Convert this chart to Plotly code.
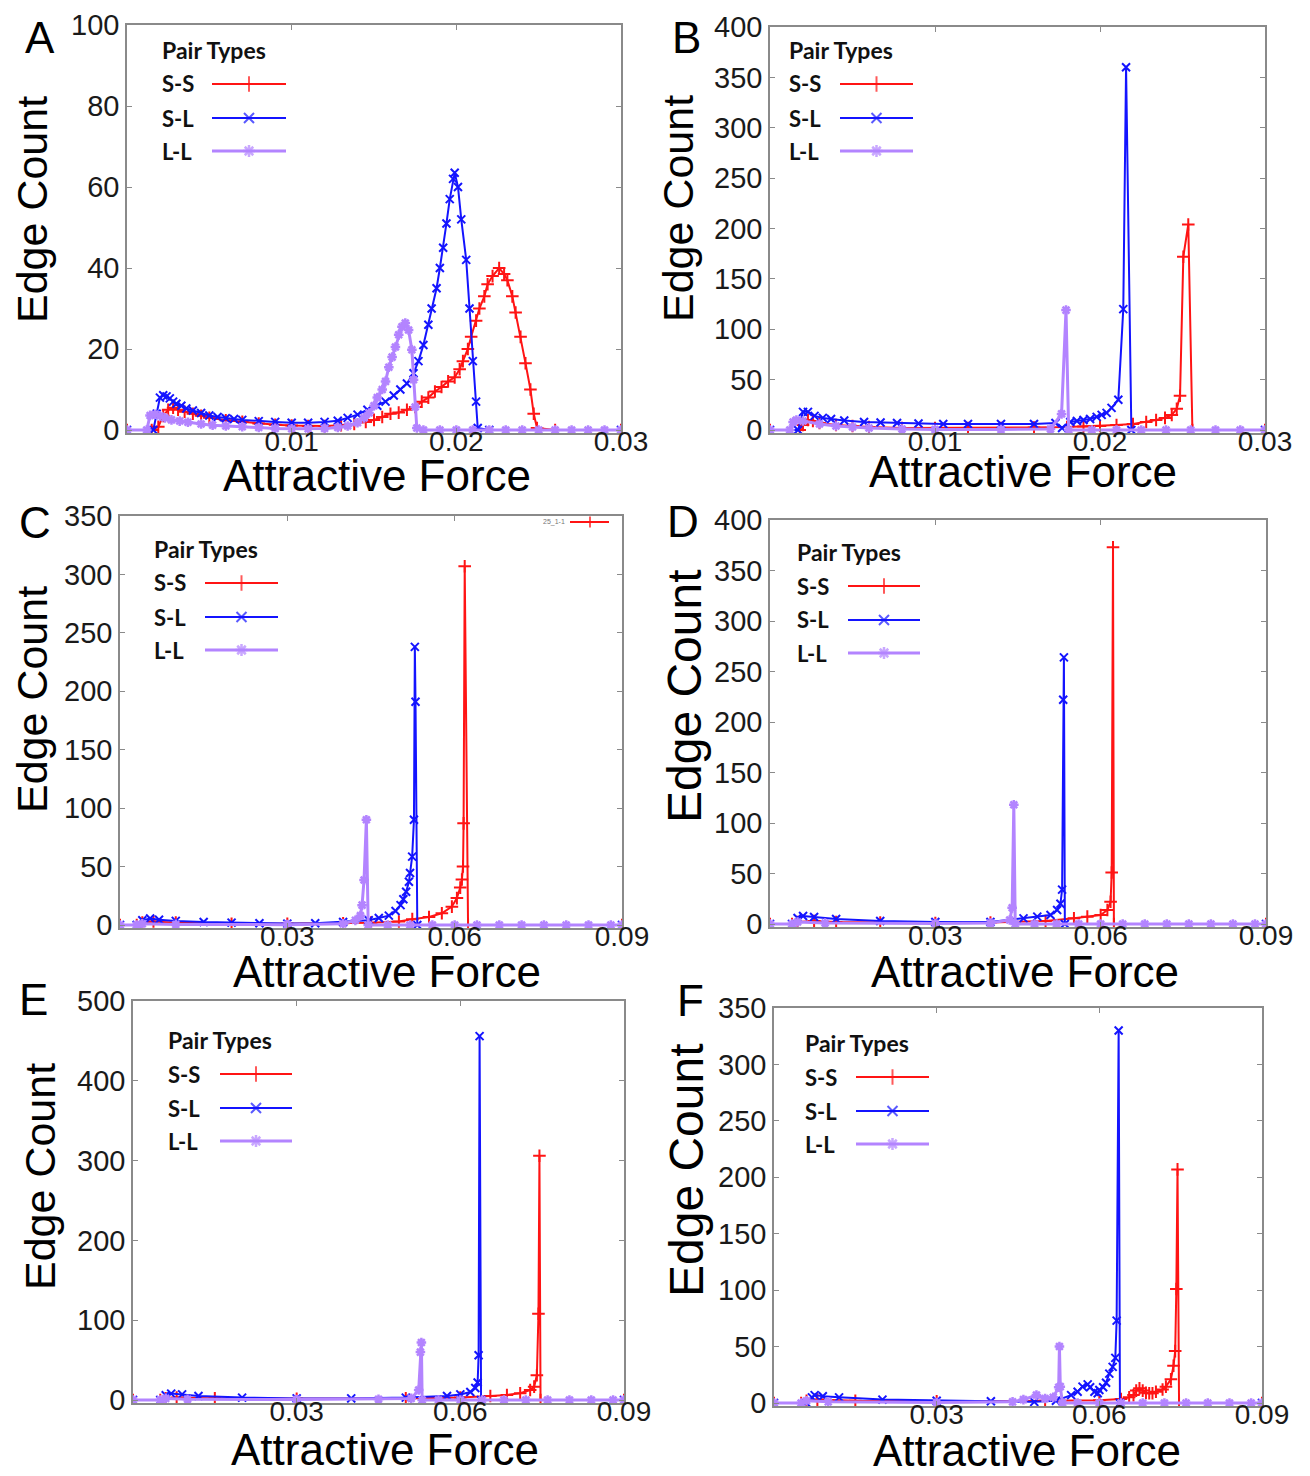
import plotly.graph_objects as go

W, H = 1310, 1476

# ---------------------------------------------------------------
# Edge-count histograms over attractive force, one list per pair
# type and panel, as (force, count) pairs.
# ---------------------------------------------------------------
A_SS = [(0.0, 0), (0.0015, 0), (0.0019, 0.8), (0.0022, 3.5), (0.0025, 5), (0.0028, 5.5),
        (0.0031, 5), (0.0035, 4.5), (0.0040, 4), (0.0045, 3.5), (0.0050, 3), (0.0060, 2.4),
        (0.0070, 2), (0.0080, 1.6), (0.0090, 1.3), (0.0100, 1.1), (0.0110, 1), (0.0120, 1),
        (0.0130, 1.2), (0.0138, 1.5), (0.0145, 2), (0.0150, 2.5), (0.0155, 3.2), (0.0160, 4),
        (0.0165, 4.3), (0.0170, 5), (0.0175, 5.7), (0.0179, 7), (0.0183, 8), (0.0187, 9.5),
        (0.0191, 10.6), (0.0195, 12), (0.0199, 13), (0.0202, 15), (0.0204, 17), (0.0207, 20),
        (0.0209, 23), (0.0212, 27), (0.0214, 30), (0.0217, 33), (0.0219, 36), (0.0222, 38),
        (0.0226, 40), (0.0229, 38.5), (0.0231, 37), (0.0234, 33), (0.0236, 29), (0.0239, 23),
        (0.0242, 16.5), (0.0245, 10), (0.0247, 4), (0.0249, 0.5), (0.0260, 0), (0.0300, 0)]
A_SL = [(0.0, 0), (0.0016, 0), (0.0018, 4), (0.0020, 8), (0.0022, 8.6), (0.0024, 8.3),
        (0.0026, 7.8), (0.0028, 7), (0.0030, 6.5), (0.0033, 6), (0.0036, 5.3), (0.0040, 4.8),
        (0.0045, 4.2), (0.0050, 3.6), (0.0055, 3.2), (0.0060, 2.9), (0.0065, 2.7), (0.0070, 2.5),
        (0.0080, 2.2), (0.0090, 2.0), (0.0100, 1.8), (0.0110, 1.8), (0.0120, 2.0), (0.0128, 2.3),
        (0.0134, 3), (0.0140, 3.8), (0.0146, 5), (0.0152, 6), (0.0157, 7), (0.0162, 8.5),
        (0.0166, 10), (0.0170, 11.5), (0.0174, 14), (0.0177, 17), (0.0180, 21), (0.0183, 26),
        (0.0185, 30), (0.0188, 35), (0.0190, 40), (0.0192, 45), (0.0194, 51), (0.0196, 57),
        (0.0198, 62), (0.0199, 63.5), (0.0201, 60), (0.0203, 52), (0.0206, 42), (0.0208, 30),
        (0.0210, 17), (0.0212, 7), (0.0213, 0.5), (0.0220, 0), (0.0300, 0)]
A_LL = [(0.0, 0), (0.0012, 0), (0.0014, 3.6), (0.0017, 3.9), (0.0020, 3.5), (0.0023, 3),
        (0.0027, 2.5), (0.0032, 2.2), (0.0037, 1.9), (0.0045, 1.5), (0.0052, 1.2), (0.0060, 1),
        (0.0070, 0.8), (0.0080, 0.6), (0.0090, 0.4), (0.0100, 0.3), (0.0110, 0.3), (0.0120, 0.4),
        (0.0128, 0.6), (0.0134, 1), (0.0140, 1.8), (0.0144, 3), (0.0147, 4.2), (0.0150, 6),
        (0.0152, 8), (0.0155, 10), (0.0157, 12), (0.0159, 15.5), (0.0161, 18), (0.0163, 20.5),
        (0.0165, 23.5), (0.0167, 25.5), (0.0169, 26.4), (0.0171, 24.7), (0.0173, 19.8),
        (0.0174, 12.4), (0.0175, 5.7), (0.0176, 0.5), (0.0180, 0), (0.0190, 0), (0.0200, 0),
        (0.0210, 0), (0.0220, 0), (0.0230, 0), (0.0240, 0), (0.0250, 0), (0.0260, 0),
        (0.0270, 0), (0.0280, 0), (0.0290, 0), (0.0300, 0)]

B_SS = [(0.0, 0), (0.0018, 0), (0.0020, 5), (0.0023, 10), (0.0026, 9), (0.0030, 7),
        (0.0040, 5), (0.0050, 4), (0.0060, 3), (0.0080, 2), (0.0100, 2), (0.0120, 2),
        (0.0140, 2), (0.0160, 2.5), (0.0180, 3), (0.0190, 3.5), (0.0200, 4), (0.0210, 5),
        (0.0220, 6), (0.0228, 8), (0.0234, 10), (0.02394, 12), (0.02435, 15), (0.02465, 21),
        (0.02485, 34), (0.02505, 172), (0.02535, 204), (0.0256, 0), (0.0300, 0)]
B_SL = [(0.0, 0), (0.0017, 0), (0.0020, 18), (0.0023, 18), (0.0027, 14), (0.0032, 12),
        (0.0037, 11), (0.0045, 9.5), (0.0057, 8), (0.0067, 7.5), (0.0077, 7), (0.0090, 6.5),
        (0.0105, 6), (0.0120, 6), (0.0140, 6), (0.0160, 6), (0.0173, 7), (0.0177, 2),
        (0.0182, 8), (0.0186, 9), (0.0190, 10), (0.0194, 11), (0.0198, 13), (0.0201, 15),
        (0.0204, 17), (0.0207, 22), (0.02111, 30), (0.02141, 120), (0.02158, 360),
        (0.0219, 0), (0.0300, 0)]
B_LL = [(0.0, 0), (0.0012, 0), (0.0014, 8), (0.0016, 10), (0.0020, 9), (0.0030, 6),
        (0.0040, 4), (0.0050, 3), (0.0060, 2), (0.0080, 1), (0.0100, 0.5), (0.0140, 0.5),
        (0.0170, 1), (0.01767, 16), (0.01794, 119), (0.0181, 0), (0.0195, 0), (0.0210, 0),
        (0.0225, 0), (0.0240, 0), (0.0255, 0), (0.0270, 0), (0.0285, 0), (0.0300, 0)]

C_SS = [(0.0, 0), (0.0030, 0), (0.0040, 2), (0.0060, 3), (0.0100, 2), (0.0200, 1),
        (0.0300, 1), (0.0400, 1.5), (0.0450, 2), (0.0500, 3), (0.0524, 5), (0.0554, 6.8),
        (0.0577, 10), (0.0595, 15.7), (0.0604, 23), (0.0610, 32), (0.0613, 39), (0.0615, 50),
        (0.0616, 87), (0.0618, 307), (0.0624, 0), (0.0900, 0)]
C_SL = [(0.0, 0), (0.0030, 0), (0.0040, 4), (0.0054, 5.5), (0.0070, 4.5), (0.0100, 3.5),
        (0.0150, 2.5), (0.0200, 2), (0.0250, 1.5), (0.0300, 1.2), (0.0350, 1.5), (0.0400, 2.5),
        (0.0446, 4), (0.0464, 6), (0.0482, 8), (0.0494, 12), (0.0503, 17), (0.0508, 22),
        (0.0513, 28.5), (0.0518, 37), (0.0520, 44.5), (0.05238, 58.5), (0.0527, 90),
        (0.05286, 238), (0.05298, 191), (0.0533, 0), (0.0900, 0)]
C_LL = [(0.0, 0), (0.0030, 0), (0.0040, 1), (0.0100, 0.5), (0.0300, 0.3), (0.0400, 1),
        (0.0422, 4), (0.0431, 8), (0.0434, 17), (0.04375, 38.5), (0.04417, 90), (0.0445, 0),
        (0.0480, 0), (0.0520, 0), (0.0560, 0), (0.0600, 0), (0.0640, 0), (0.0680, 0),
        (0.0720, 0), (0.0760, 0), (0.0800, 0), (0.0840, 0), (0.0880, 0), (0.0900, 0)]

D_SS = [(0.0, 0), (0.0040, 0), (0.0050, 2), (0.0080, 3), (0.0120, 2), (0.0200, 1.5),
        (0.0300, 1), (0.0400, 1.5), (0.0500, 3), (0.05515, 5.6), (0.05758, 7.3), (0.0600, 8.9),
        (0.06122, 13.9), (0.0618, 22), (0.0620, 51), (0.06224, 373), (0.0624, 0), (0.0900, 0)]
D_SL = [(0.0, 0), (0.0040, 0), (0.0050, 6), (0.0060, 8), (0.0080, 7), (0.0120, 5),
        (0.0200, 3), (0.0300, 2), (0.0400, 2), (0.0460, 5.6), (0.0485, 7.3), (0.0509, 8.9),
        (0.0521, 13.9), (0.0527, 20), (0.0530, 34), (0.0532, 222), (0.05333, 264),
        (0.0535, 0), (0.0900, 0)]
D_LL = [(0.0, 0), (0.0040, 0), (0.0050, 2), (0.0100, 1), (0.0300, 0.5), (0.0400, 1),
        (0.0435, 4), (0.04394, 16), (0.04424, 118), (0.0445, 0), (0.0480, 0), (0.0520, 0),
        (0.0560, 0), (0.0600, 0), (0.0640, 0), (0.0680, 0), (0.0720, 0), (0.0760, 0),
        (0.0800, 0), (0.0840, 0), (0.0880, 0), (0.0900, 0)]

E_SS = [(0.0, 0), (0.0050, 0), (0.0060, 2), (0.0080, 3), (0.0150, 2), (0.0300, 1.5),
        (0.0500, 2), (0.0600, 3), (0.0655, 5), (0.06854, 6.3), (0.07097, 8.4), (0.0728, 12.5),
        (0.07353, 16.7), (0.07403, 31), (0.07432, 108), (0.0745, 306), (0.0747, 0), (0.0900, 0)]
E_SL = [(0.0, 0), (0.0050, 0), (0.0060, 6), (0.0070, 8), (0.0090, 7), (0.0120, 5),
        (0.0200, 3), (0.0300, 2), (0.0400, 2), (0.0500, 3), (0.05756, 5), (0.0600, 7),
        (0.06183, 10), (0.06274, 15), (0.06317, 22), (0.06335, 56), (0.06353, 456),
        (0.0638, 0), (0.0900, 0)]
E_LL = [(0.0, 0), (0.0050, 0), (0.0060, 2), (0.0100, 1), (0.0300, 0.5), (0.0450, 1),
        (0.0510, 2), (0.05237, 12.5), (0.05268, 60), (0.05286, 72), (0.0530, 0), (0.0560, 0),
        (0.0600, 0), (0.0640, 0), (0.0680, 0), (0.0720, 0), (0.0760, 0), (0.0800, 0),
        (0.0840, 0), (0.0880, 0), (0.0900, 0)]

F_SS = [(0.0, 0), (0.0050, 0), (0.0060, 2), (0.0080, 3), (0.0150, 2), (0.0300, 1.5),
        (0.0500, 2), (0.0600, 2.5), (0.0640, 3.5), (0.0655, 5), (0.0663, 7), (0.0668, 11),
        (0.0674, 13), (0.0680, 11), (0.0686, 9), (0.0692, 8.6), (0.0698, 8.6), (0.07044, 10),
        (0.07166, 12), (0.07228, 14.5), (0.0732, 21), (0.07368, 33), (0.07399, 46),
        (0.0742, 101), (0.07442, 207), (0.0747, 0), (0.0900, 0)]
F_SL = [(0.0, 0), (0.0060, 0), (0.0070, 5), (0.0075, 7), (0.0090, 6), (0.0120, 5),
        (0.0200, 3), (0.0300, 2), (0.0400, 1.5), (0.0480, 1), (0.0520, 2), (0.0548, 7),
        (0.0560, 10), (0.0569, 14.5), (0.05785, 16.5), (0.0583, 14), (0.0591, 10),
        (0.0597, 8.6), (0.0600, 11.5), (0.0607, 14), (0.06124, 18), (0.06184, 26),
        (0.06246, 32), (0.06295, 40), (0.06319, 73), (0.06356, 330), (0.0638, 0), (0.0900, 0)]
F_LL = [(0.0, 0), (0.0050, 0), (0.0060, 2), (0.0100, 1), (0.0300, 0.5), (0.0440, 1),
        (0.0460, 3), (0.0484, 7), (0.0500, 4), (0.0515, 5), (0.0525, 14), (0.05264, 50),
        (0.0528, 14.5), (0.0532, 0), (0.0560, 0), (0.0600, 0), (0.0640, 0), (0.0680, 0),
        (0.0720, 0), (0.0760, 0), (0.0800, 0), (0.0840, 0), (0.0880, 0), (0.0900, 0)]

PAIR_TYPES = ["S-S", "S-L", "L-L"]
X_TICKS_FINE = [0.01, 0.02, 0.03]
X_TICKS_WIDE = [0.03, 0.06, 0.09]

# ---------------------------------------------------------------
# Styling
# ---------------------------------------------------------------
RED = "#ff1414"
BLUE = "#1414ff"
PURPLE = "#b384ff"
AXIS_GREY = "#8a8a8a"
FONT = "Liberation Sans, Arial, sans-serif"
LEGEND_FONT = "Lato, Open Sans, sans-serif"

STYLE = {
    "S-S": dict(color=RED, symbol="cross-thin", size=9, lw=2, mlw=2),
    "S-L": dict(color=BLUE, symbol="x-thin", size=8, lw=2, mlw=2),
    "L-L": dict(color=PURPLE, symbol="asterisk", size=8, lw=3, mlw=2.5),
}

# panel layout in pixels: plot box (left, top, right, bottom), text anchors
PANELS = [
    dict(letter="A", series=(A_SS, A_SL, A_LL), box=(127, 25, 621, 430), xmax=0.03,
         xt=X_TICKS_FINE, ymax=100, ystep=20, letter_xy=(40, 38), ylab_xy=(32, 210),
         ylab_size=43, xlab_xy=(377, 475), leg=(160, 50, 212, 286)),
    dict(letter="B", series=(B_SS, B_SL, B_LL), box=(770, 27, 1265, 430), xmax=0.03,
         xt=X_TICKS_FINE, ymax=400, ystep=50, letter_xy=(686, 38), ylab_xy=(678, 209),
         ylab_size=43, xlab_xy=(1023, 471), leg=(787, 50, 840, 913)),
    dict(letter="C", series=(C_SS, C_SL, C_LL), box=(120, 516, 622, 925), xmax=0.09,
         xt=X_TICKS_WIDE, ymax=350, ystep=50, letter_xy=(35, 522), ylab_xy=(32, 700),
         ylab_size=43, xlab_xy=(387, 971), leg=(152, 549, 205, 278)),
    dict(letter="D", series=(D_SS, D_SL, D_LL), box=(770, 520, 1266, 924), xmax=0.09,
         xt=X_TICKS_WIDE, ymax=400, ystep=50, letter_xy=(683, 521), ylab_xy=(684, 696),
         ylab_size=48, xlab_xy=(1025, 971), leg=(795, 552, 848, 920)),
    dict(letter="E", series=(E_SS, E_SL, E_LL), box=(133, 1001, 624, 1400), xmax=0.09,
         xt=X_TICKS_WIDE, ymax=500, ystep=100, letter_xy=(33, 999), ylab_xy=(40, 1177),
         ylab_size=43, xlab_xy=(385, 1449), leg=(166, 1040, 220, 292)),
    dict(letter="F", series=(F_SS, F_SL, F_LL), box=(774, 1008, 1262, 1403), xmax=0.09,
         xt=X_TICKS_WIDE, ymax=350, ystep=50, letter_xy=(690, 1000), ylab_xy=(686, 1170),
         ylab_size=48, xlab_xy=(1027, 1450), leg=(803, 1043, 856, 929)),
]

BASE_PAD = 3  # px of room under the zero line so the baseline is not clipped


def px_x(x):
    return x / W


def px_y(y):
    return 1 - y / H


fig = go.Figure()
annotations = []
layout_axes = {}

for i, p in enumerate(PANELS, start=1):
    sfx = "" if i == 1 else str(i)
    l, t, r, b = p["box"]
    y_per_px = p["ymax"] / (b - t)
    layout_axes["xaxis" + sfx] = dict(
        domain=[px_x(l), px_x(r)], range=[0, p["xmax"]], anchor="y" + sfx,
        tickmode="array", tickvals=p["xt"], ticktext=[f"{v:.2f}" for v in p["xt"]],
        ticks="inside", ticklen=5, tickcolor=AXIS_GREY, showline=True, linecolor=AXIS_GREY,
        linewidth=1.5, mirror="ticks", showgrid=False, zeroline=False,
        tickfont=dict(family=FONT, size=28, color="#1a1a1a"), ticklabelstandoff=-17,
    )
    layout_axes["yaxis" + sfx] = dict(
        domain=[px_y(b + BASE_PAD), px_y(t)], range=[-BASE_PAD * y_per_px, p["ymax"]],
        anchor="x" + sfx, tickmode="array",
        tickvals=list(range(0, p["ymax"] + 1, p["ystep"])),
        ticks="inside", ticklen=5, tickcolor=AXIS_GREY, showline=True, linecolor=AXIS_GREY,
        linewidth=1.5, mirror="ticks", showgrid=False, zeroline=False,
        tickfont=dict(family=FONT, size=29, color="#1a1a1a"),
    )
    for name, data in zip(PAIR_TYPES, p["series"]):
        st = STYLE[name]
        fig.add_trace(go.Scatter(
            x=[d[0] for d in data], y=[d[1] for d in data], name=name,
            mode="lines+markers", xaxis="x" + sfx, yaxis="y" + sfx, showlegend=False,
            line=dict(color=st["color"], width=st["lw"]),
            marker=dict(symbol=st["symbol"], size=st["size"], color=st["color"],
                        line=dict(color=st["color"], width=st["mlw"])),
        ))

    # panel letter and axis titles
    lx, ly = p["letter_xy"]
    annotations.append(dict(text=p["letter"], x=px_x(lx), y=px_y(ly), xref="paper", yref="paper",
                            showarrow=False, xanchor="center", yanchor="middle",
                            font=dict(family=FONT, size=44, color="black")))
    yx, yy = p["ylab_xy"]
    annotations.append(dict(text="Edge Count", x=px_x(yx), y=px_y(yy), xref="paper", yref="paper",
                            showarrow=False, textangle=-90, xanchor="center", yanchor="middle",
                            font=dict(family=FONT, size=p["ylab_size"], color="black")))
    xx, xy = p["xlab_xy"]
    annotations.append(dict(text="Attractive Force", x=px_x(xx), y=px_y(xy), xref="paper",
                            yref="paper", showarrow=False, xanchor="center", yanchor="middle",
                            font=dict(family=FONT, size=44, color="black")))

# full-figure pixel overlay for the in-panel legends
layout_axes["xaxis7"] = dict(domain=[0, 1], range=[0, W], visible=False, fixedrange=True,
                             anchor="y7")
layout_axes["yaxis7"] = dict(domain=[0, 1], range=[H, 0], visible=False, fixedrange=True,
                             anchor="x7")

ROW_GAP = 34
for p in PANELS:
    tx, ty, l0, l1 = p["leg"]
    annotations.append(dict(text="<b>Pair Types</b>", x=px_x(tx), y=px_y(ty), xref="paper",
                            yref="paper", showarrow=False, xanchor="left", yanchor="middle",
                            font=dict(family=LEGEND_FONT, size=23, color="#111")))
    for k, name in enumerate(PAIR_TYPES):
        ry = ty + ROW_GAP * (k + 1) - (1 if k == 2 else 0)
        st = STYLE[name]
        annotations.append(dict(text=f"<b>{name}</b>", x=px_x(tx), y=px_y(ry), xref="paper",
                                yref="paper", showarrow=False, xanchor="left", yanchor="middle",
                                font=dict(family=LEGEND_FONT, size=22, color="#111")))
        fig.add_trace(go.Scatter(
            x=[l0, (l0 + l1) / 2, l1], y=[ry, ry, ry], mode="lines+markers",
            xaxis="x7", yaxis="y7", showlegend=False, hoverinfo="skip",
            line=dict(color=st["color"], width=st["lw"]),
            marker=dict(symbol=st["symbol"], size=[0, st["size"] + 2, 0], color=st["color"],
                        line=dict(color=st["color"], width=st["mlw"])),
        ))

# small stray key in the upper corner of panel C
annotations.append(dict(text="25_1-1", x=px_x(567), y=px_y(522), xref="paper", yref="paper",
                        showarrow=False, xanchor="right", yanchor="middle",
                        font=dict(family=FONT, size=7, color="#777")))
fig.add_trace(go.Scatter(
    x=[570, 590, 609], y=[522, 522, 522], mode="lines+markers", xaxis="x7", yaxis="y7",
    showlegend=False, hoverinfo="skip", line=dict(color=RED, width=2),
    marker=dict(symbol="cross-thin", size=[0, 8, 0], color=RED, line=dict(color=RED, width=2)),
))

fig.update_layout(
    width=W, height=H, margin=dict(l=0, r=0, t=0, b=0, autoexpand=False),
    paper_bgcolor="white", plot_bgcolor="rgba(0,0,0,0)", showlegend=False,
    annotations=annotations, **layout_axes,
)

fig.write_html("out.html")
